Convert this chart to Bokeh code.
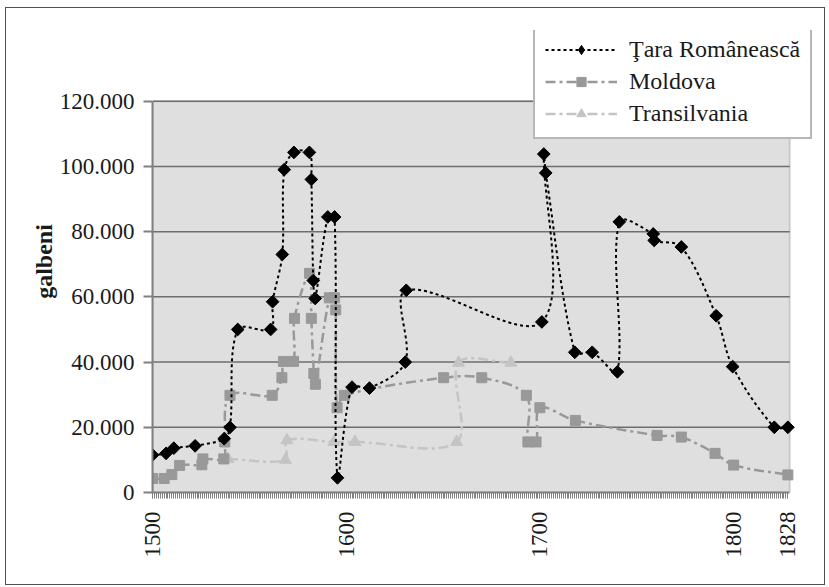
import math
from bokeh.plotting import figure
from bokeh.models import (ColumnDataSource, FixedTicker, Legend, LegendItem, Range1d,
                          BoxAnnotation)
from bokeh.embed import file_html
from bokeh.resources import INLINE

# ---- data (year, galbeni) ----
tara_years = [1500, 1507, 1511, 1522, 1537, 1540, 1544, 1561, 1562, 1567, 1568, 1573,
              1581, 1582, 1583, 1584, 1590.5, 1594, 1595.5, 1603, 1612, 1630.5, 1631,
              1701, 1702, 1703, 1718, 1727, 1740, 1741, 1758.5, 1759, 1773, 1791, 1799.5,
              1821, 1828]
tara_vals = [11500, 12000, 13600, 14300, 16500, 20000, 50000, 50000, 58500, 73000, 99000,
             104300, 104300, 96000, 65000, 59500, 84500, 84500, 4500, 32300, 32000, 40000,
             62000, 52300, 103800, 98000, 43000, 43000, 37000, 83000, 79300, 77300, 75300,
             54200, 38600, 20000, 20000]

mold_years = [1500, 1506, 1510, 1514, 1525.5, 1526, 1536.8, 1537.3, 1540, 1561.8, 1566.8,
              1567.6, 1572.8, 1573.3, 1581.1, 1582, 1583.3, 1584.1, 1591.3, 1594, 1594.6,
              1595.3, 1599, 1650.3, 1670, 1693, 1693.8, 1698, 1700, 1718.3, 1760.5, 1773,
              1790.4, 1800, 1828]
mold_vals = [4300, 4300, 5500, 8300, 8500, 10300, 10300, 15500, 29800, 29800, 35200, 40200,
             40200, 53400, 67200, 53400, 36500, 33200, 59700, 59700, 56000, 26000, 29800,
             35200, 35200, 29800, 15500, 15500, 26000, 22100, 17500, 17000, 12000, 8400, 5400]

trans_years = [1539, 1568.6, 1569.4, 1593.6, 1604.5, 1657, 1658, 1685]
trans_vals = [10300, 10000, 16000, 15500, 15500, 15500, 39800, 39800]

series_names = ["Ţara Românească", "Moldova", "Transilvania"]
y_ticks = [0, 20000, 40000, 60000, 80000, 100000, 120000]
y_tick_labels = ["0", "20.000", "40.000", "60.000", "80.000", "100.000", "120.000"]
x_ticks = [1500, 1600, 1700, 1800, 1828]

X0, X1 = 1500, 1829          # plot-area span (years)
Y0, Y1 = 0, 120000           # plot-area span (galbeni)

FONT = "'Liberation Serif', 'Times New Roman', serif"

FRAME_W, FRAME_H = 672, 462
AREA_W, AREA_H = 637.3, 391.3
PX_X = AREA_W / (X1 - X0)
PX_Y = AREA_H / (Y1 - Y0)


def smooth_source(xs, ys, f=1.0 / 6.0):
    """Bezier control points for a smoothed line (Catmull-Rom, length-weighted)."""
    n = len(xs)
    pts = [(xs[i], ys[i]) for i in range(n)]

    def dist(a, b):
        return math.hypot((a[0] - b[0]) * PX_X, (a[1] - b[1]) * PX_Y)

    d = dict(x0=[], y0=[], x1=[], y1=[], cx0=[], cy0=[], cx1=[], cy1=[])
    for i in range(n - 1):
        p0 = pts[max(i - 1, 0)]
        p1 = pts[i]
        p2 = pts[i + 1]
        p3 = pts[min(i + 2, n - 1)]
        d01, d12, d23 = dist(p0, p1), dist(p1, p2), dist(p2, p3)
        k1 = 2 * d12 / (d01 + d12) if d01 + d12 > 0 else 0
        k2 = 2 * d12 / (d12 + d23) if d12 + d23 > 0 else 0
        d["x0"].append(p1[0]); d["y0"].append(p1[1])
        d["x1"].append(p2[0]); d["y1"].append(p2[1])
        d["cx0"].append(p1[0] + (p2[0] - p0[0]) * f * k1)
        d["cy0"].append(p1[1] + (p2[1] - p0[1]) * f * k1)
        d["cx1"].append(p2[0] - (p3[0] - p1[0]) * f * k2)
        d["cy1"].append(p2[1] - (p3[1] - p1[1]) * f * k2)
    return ColumnDataSource(d)


p = figure(frame_width=FRAME_W, frame_height=FRAME_H,
           x_range=Range1d(X0, X0 + FRAME_W / PX_X),
           y_range=Range1d(Y0, Y0 + FRAME_H / PX_Y),
           output_backend="svg", toolbar_location=None,
           min_border_left=146, min_border_right=0, min_border_top=22, min_border_bottom=92)
p.styles = {"border": "1px solid #505050", "margin-left": "5px", "margin-top": "7px"}

p.background_fill_color = "white"
p.border_fill_color = "white"
p.outline_line_color = None
p.xgrid.visible = False
p.ygrid.visible = False

# gray plot area
p.add_layout(BoxAnnotation(left=X0, right=X1, bottom=Y0, top=Y1,
                           fill_color="#dfdfdf", fill_alpha=1,
                           line_color="#808080", line_width=2, level="underlay"))
# horizontal gridlines
p.segment(x0=[X0] * (len(y_ticks) - 1), x1=[X1] * (len(y_ticks) - 1),
          y0=y_ticks[1:], y1=y_ticks[1:], line_color="#6e6e6e", line_width=1.5)

# y axis
yt = FixedTicker(ticks=y_ticks)
p.yaxis.ticker = yt
p.yaxis.bounds = (Y0, Y1)
p.yaxis.major_label_overrides = {v: s for v, s in zip(y_ticks, y_tick_labels)}
p.yaxis.axis_line_color = "#808080"
p.yaxis.axis_line_width = 2
p.yaxis.major_tick_line_color = "#808080"
p.yaxis.major_tick_line_width = 2
p.yaxis.major_tick_out = 9
p.yaxis.major_tick_in = 0
p.yaxis.minor_tick_line_color = None
p.yaxis.major_label_text_font = FONT
p.yaxis.major_label_text_font_size = "23px"
p.yaxis.major_label_text_color = "#1a1a1a"
p.yaxis.major_label_standoff = 9
p.yaxis.axis_label = "galbeni"
p.yaxis.axis_label_text_font = FONT
p.yaxis.axis_label_text_font_style = "bold"
p.yaxis.axis_label_text_font_size = "24px"
p.yaxis.axis_label_text_color = "#1a1a1a"
p.yaxis.axis_label_standoff = 0

# x axis
xt = FixedTicker(ticks=x_ticks, minor_ticks=list(range(1500, 1829)))
p.xaxis.ticker = xt
p.xaxis.bounds = (X0, X1)
p.xaxis.axis_line_color = "#808080"
p.xaxis.axis_line_width = 2
p.xaxis.major_tick_line_color = "#808080"
p.xaxis.minor_tick_line_color = "#808080"
p.xaxis.major_tick_out = 6
p.xaxis.major_tick_in = 0
p.xaxis.minor_tick_out = 6
p.xaxis.minor_tick_in = 0
p.xaxis.major_label_orientation = math.pi / 2
p.xaxis.major_label_text_font = FONT
p.xaxis.major_label_text_font_size = "23px"
p.xaxis.major_label_text_color = "#1a1a1a"
p.xaxis.major_label_standoff = 13

# series
tr_line = p.bezier("x0", "y0", "x1", "y1", "cx0", "cy0", "cx1", "cy1",
                   source=smooth_source(trans_years, trans_vals),
                   line_color="#c4c4c4", line_width=2.5, line_dash="10 4 3 4")
tr_pts = p.scatter(trans_years, trans_vals, marker="triangle", size=12,
                   fill_color="#c4c4c4", line_color="#c4c4c4")

mo_line = p.bezier("x0", "y0", "x1", "y1", "cx0", "cy0", "cx1", "cy1",
                   source=smooth_source(mold_years, mold_vals),
                   line_color="#999999", line_width=2.5, line_dash="10 4 3 4")
mo_pts = p.scatter(mold_years, mold_vals, marker="square", size=10,
                   fill_color="#999999", line_color="#999999")

ta_line = p.bezier("x0", "y0", "x1", "y1", "cx0", "cy0", "cx1", "cy1",
                   source=smooth_source(tara_years, tara_vals),
                   line_color="black", line_width=2, line_dash="3 3")
ta_pts = p.scatter(tara_years, tara_vals, marker="square", angle=math.pi / 4, size=9,
                   fill_color="black", line_color="black")
# legend-only diamond (single point placed outside the visible frame)
ta_key = p.scatter([X0 + FRAME_W / PX_X + 50], [Y1 * 2], marker="diamond", size=15,
                   fill_color="black", line_color="black")

legend = Legend(items=[
    LegendItem(label=series_names[0], renderers=[ta_line, ta_key], index=0),
    LegendItem(label=series_names[1], renderers=[mo_line, mo_pts], index=0),
    LegendItem(label=series_names[2], renderers=[tr_line, tr_pts], index=0),
], location=(381, 353))
legend.label_text_font = FONT
legend.label_text_font_size = "24px"
legend.label_text_color = "#1a1a1a"
legend.glyph_width = 72
legend.glyph_height = 23
legend.label_height = 23
legend.spacing = 5
legend.padding = 10
legend.margin = 0
legend.label_standoff = 12
legend.border_line_color = "#707070"
legend.border_line_width = 2
legend.background_fill_color = "white"
legend.background_fill_alpha = 1
p.add_layout(legend, "center")

open("out.html", "w").write(file_html(p, INLINE))
